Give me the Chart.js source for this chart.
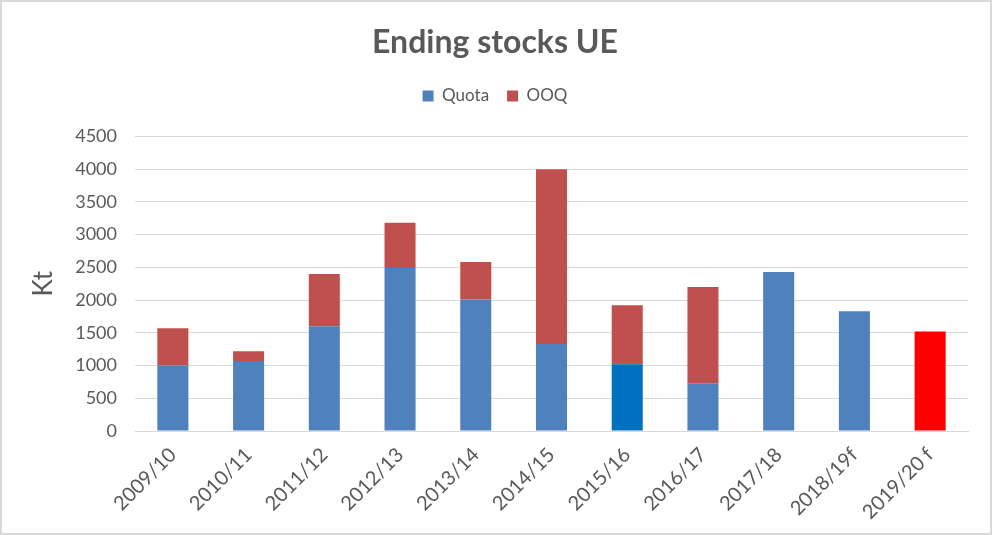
<!DOCTYPE html>
<html>
<head>
<meta charset="utf-8">
<script src="https://cdn.jsdelivr.net/npm/chart.js@4"></script>
<style>
  html, body { margin: 0; padding: 0; background: #fff; }
  #wrap { box-sizing: border-box; width: 992px; height: 535px; border: 2px solid #d9d9d9; background: #fff; }
  #c { display: block; }
</style>
</head>
<body>
<div id="wrap"><canvas id="c" width="988" height="531"></canvas></div>
<script>
const categories = ['2009/10','2010/11','2011/12','2012/13','2013/14','2014/15','2015/16','2016/17','2017/18','2018/19f','2019/20 f'];
const quota = [1000, 1070, 1600, 2490, 2010, 1330, 1020, 730, 2430, 1830, 0];
const ooq   = [570, 150, 800, 690, 570, 2670, 900, 1470, 0, 0, 1520];
const yTicks = [0, 500, 1000, 1500, 2000, 2500, 3000, 3500, 4000, 4500];
const titleText = 'Ending stocks UE';
const yTitle = 'Kt';

const FONT = 'Lato, "Open Sans", sans-serif';
const TXT = '#595959';

new Chart(document.getElementById('c'), {
  type: 'bar',
  data: {
    labels: categories,
    datasets: [
      {
        label: 'Quota',
        data: quota,
        backgroundColor: ctx => (ctx.dataIndex === 6 ? '#0070C0' : '#4F81BD'),
        borderWidth: 0
      },
      {
        label: 'OOQ',
        data: ooq,
        backgroundColor: ctx => (ctx.dataIndex === 10 ? '#FF0000' : '#C0504D'),
        borderWidth: 0
      }
    ]
  },
  options: {
    responsive: false,
    animation: false,
    devicePixelRatio: 1,
    layout: { padding: { left: 20, right: 22, top: 0, bottom: 0 } },
    datasets: { bar: { categoryPercentage: 1, barPercentage: 0.41 } },
    plugins: {
      title: {
        display: true,
        text: titleText,
        color: TXT,
        font: { family: FONT, size: 32, weight: 'bold' },
        padding: { top: 21, bottom: 8 }
      },
      legend: {
        display: true,
        labels: {
          color: TXT,
          font: { family: FONT, size: 17 },
          boxWidth: 11,
          boxHeight: 11,
          padding: 18
        }
      },
      tooltip: { enabled: false }
    },
    scales: {
      x: {
        stacked: true,
        grid: { display: false, drawTicks: false },
        border: { display: true, color: '#d9d9d9', width: 1 },
        ticks: {
          color: TXT,
          font: { family: FONT, size: 20 },
          maxRotation: 45,
          minRotation: 45,
          padding: 12
        },
        afterFit: s => { s.height = 102; }
      },
      xTop: {
        axis: 'x',
        type: 'category',
        position: 'top',
        display: true,
        grid: { display: false, drawTicks: false },
        border: { display: false },
        ticks: { display: false },
        afterFit: s => { s.height = 22; }
      },
      y: {
        stacked: true,
        min: 0,
        max: 4500,
        afterBuildTicks: s => { s.ticks = yTicks.map(v => ({ value: v })); },
        grid: { color: '#d9d9d9', lineWidth: 1, drawTicks: false },
        border: { display: false },
        ticks: {
          color: TXT,
          font: { family: FONT, size: 18 },
          padding: 18,
          callback: v => String(v)
        },
        title: {
          display: true,
          text: yTitle,
          color: TXT,
          font: { family: FONT, size: 26 },
          padding: { top: 6, bottom: 0 }
        },
        afterFit: s => { s.width = 113; }
      }
    }
  }
});
</script>
</body>
</html>
